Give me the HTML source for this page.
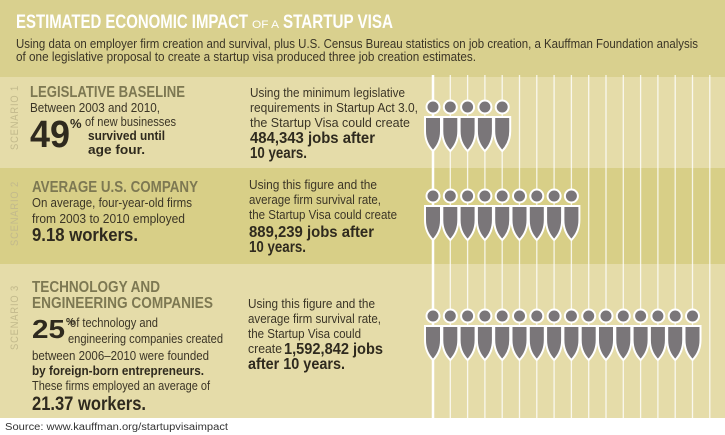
<!DOCTYPE html>
<html><head><meta charset="utf-8"><style>
html,body{margin:0;padding:0;background:#fff}
svg{display:block;font-family:"Liberation Sans",sans-serif}
.h{fill:#7d7852;font-weight:bold}
.t{fill:#3b3526}
.b{fill:#2f2a1e;font-weight:bold}
.s{fill:#c2b98c;font-size:11px;letter-spacing:1px}
</style></head><body>
<svg id="chart" width="725" height="435" viewBox="0 0 725 435">
<rect x="0" y="0" width="725" height="77" fill="#d9d08e"/>
<rect x="0" y="77" width="725" height="91" fill="#e5dca9"/>
<rect x="0" y="168" width="725" height="96" fill="#d8cf87"/>
<rect x="0" y="264" width="725" height="154" fill="#e5dca9"/>
<g id="lines"></g>
<g id="figs"></g>

<g>
<text x="16" y="28" font-size="19" font-weight="bold" fill="#fff" textLength="232" lengthAdjust="spacingAndGlyphs">ESTIMATED ECONOMIC IMPACT</text>
<text x="252" y="28" font-size="11" fill="#fff" textLength="27" lengthAdjust="spacingAndGlyphs">OF A</text>
<text x="283" y="28" font-size="19" font-weight="bold" fill="#fff" textLength="110" lengthAdjust="spacingAndGlyphs">STARTUP VISA</text>
<text x="16" y="48" font-size="13" class="t" textLength="682" lengthAdjust="spacingAndGlyphs">Using data on employer firm creation and survival, plus U.S. Census Bureau statistics on job creation, a Kauffman Foundation analysis</text>
<text x="16" y="61" font-size="13" class="t" textLength="460" lengthAdjust="spacingAndGlyphs">of one legislative proposal to create a startup visa produced three job creation estimates.</text>
</g>

<g>
<text class="s" transform="translate(18,150) rotate(-90)" textLength="65" lengthAdjust="spacingAndGlyphs">SCENARIO 1</text>
<text x="30" y="97" font-size="16" class="h" textLength="155" lengthAdjust="spacingAndGlyphs">LEGISLATIVE BASELINE</text>
<text x="30" y="112" font-size="13" class="t" textLength="130" lengthAdjust="spacingAndGlyphs">Between 2003 and 2010,</text>
<text x="30" y="147" font-size="38" class="b" textLength="40" lengthAdjust="spacingAndGlyphs">49</text>
<text x="70" y="128" font-size="13" class="b">%</text>
<text x="85" y="126" font-size="13" class="t" textLength="91" lengthAdjust="spacingAndGlyphs">of new businesses</text>
<text x="88" y="140" font-size="13" class="b" textLength="77" lengthAdjust="spacingAndGlyphs">survived until</text>
<text x="88" y="154" font-size="13" class="b" textLength="57" lengthAdjust="spacingAndGlyphs">age four.</text>
<text x="250" y="97" font-size="13" class="t" textLength="155" lengthAdjust="spacingAndGlyphs">Using the minimum legislative</text>
<text x="250" y="112" font-size="13" class="t" textLength="168" lengthAdjust="spacingAndGlyphs">requirements in Startup Act 3.0,</text>
<text x="250" y="127" font-size="13" class="t" textLength="160" lengthAdjust="spacingAndGlyphs">the Startup Visa could create</text>
<text x="250" y="143" font-size="16" class="b" textLength="125" lengthAdjust="spacingAndGlyphs">484,343 jobs after</text>
<text x="250" y="158" font-size="16" class="b" textLength="57" lengthAdjust="spacingAndGlyphs">10 years.</text>
</g>

<g>
<text class="s" transform="translate(18,246) rotate(-90)" textLength="65" lengthAdjust="spacingAndGlyphs">SCENARIO 2</text>
<text x="32" y="192" font-size="16" class="h" textLength="166" lengthAdjust="spacingAndGlyphs">AVERAGE U.S. COMPANY</text>
<text x="32" y="207" font-size="13" class="t" textLength="160" lengthAdjust="spacingAndGlyphs">On average, four-year-old firms</text>
<text x="32" y="223" font-size="13" class="t" textLength="153" lengthAdjust="spacingAndGlyphs">from 2003 to 2010 employed</text>
<text x="32" y="241" font-size="18" class="b" textLength="106" lengthAdjust="spacingAndGlyphs">9.18 workers.</text>
<text x="249" y="189" font-size="13" class="t" textLength="128" lengthAdjust="spacingAndGlyphs">Using this figure and the</text>
<text x="249" y="204" font-size="13" class="t" textLength="132" lengthAdjust="spacingAndGlyphs">average firm survival rate,</text>
<text x="249" y="219" font-size="13" class="t" textLength="148" lengthAdjust="spacingAndGlyphs">the Startup Visa could create</text>
<text x="249" y="237" font-size="16" class="b" textLength="125" lengthAdjust="spacingAndGlyphs">889,239 jobs after</text>
<text x="249" y="252" font-size="16" class="b" textLength="57" lengthAdjust="spacingAndGlyphs">10 years.</text>
</g>

<g>
<text class="s" transform="translate(18,350) rotate(-90)" textLength="65" lengthAdjust="spacingAndGlyphs">SCENARIO 3</text>
<text x="32" y="292" font-size="16" class="h" textLength="128" lengthAdjust="spacingAndGlyphs">TECHNOLOGY AND</text>
<text x="32" y="308" font-size="16" class="h" textLength="181" lengthAdjust="spacingAndGlyphs">ENGINEERING COMPANIES</text>
<text x="32" y="338" font-size="26" class="b" textLength="33" lengthAdjust="spacingAndGlyphs">25</text>
<text x="66" y="325" font-size="10" class="b">%</text>
<text x="70" y="327" font-size="13" class="t" textLength="88" lengthAdjust="spacingAndGlyphs">of technology and</text>
<text x="68" y="343" font-size="13" class="t" textLength="155" lengthAdjust="spacingAndGlyphs">engineering companies created</text>
<text x="32" y="360" font-size="13" class="t" textLength="177" lengthAdjust="spacingAndGlyphs">between 2006–2010 were founded</text>
<text x="32" y="375" font-size="13" class="b" textLength="172" lengthAdjust="spacingAndGlyphs">by foreign-born entrepreneurs.</text>
<text x="32" y="390" font-size="13" class="t" textLength="178" lengthAdjust="spacingAndGlyphs">These firms employed an average of</text>
<text x="32" y="410" font-size="19" class="b" textLength="114" lengthAdjust="spacingAndGlyphs">21.37 workers.</text>
<text x="248" y="308" font-size="13" class="t" textLength="127" lengthAdjust="spacingAndGlyphs">Using this figure and the</text>
<text x="248" y="323" font-size="13" class="t" textLength="133" lengthAdjust="spacingAndGlyphs">average firm survival rate,</text>
<text x="248" y="338" font-size="13" class="t" textLength="113" lengthAdjust="spacingAndGlyphs">the Startup Visa could</text>
<text x="248" y="353" font-size="13" class="t" textLength="34" lengthAdjust="spacingAndGlyphs">create</text>
<text x="284" y="354" font-size="16" class="b" textLength="99" lengthAdjust="spacingAndGlyphs">1,592,842 jobs</text>
<text x="248" y="369" font-size="16" class="b" textLength="97" lengthAdjust="spacingAndGlyphs">after 10 years.</text>
</g>

<text x="5" y="430" font-size="10" fill="#333" textLength="223" lengthAdjust="spacingAndGlyphs">Source: www.kauffman.org/startupvisaimpact</text>
</svg>
<script>
const scenarios = ["Scenario 1", "Scenario 2", "Scenario 3"];
const figureCounts = [5, 9, 16];
const lineCount = 17;

const NS = "http://www.w3.org/2000/svg";
const x0 = 433, step = 17.3;
const rowHeadY = [107, 196, 316];
function xAt(i){ return x0 + i*step; }
const lg = document.getElementById('lines');
for (let i=0;i<lineCount;i++){
  const l = document.createElementNS(NS,'line');
  
  
  l.setAttribute('x1', xAt(i)); l.setAttribute('x2', xAt(i));
  l.setAttribute('y1', 75); l.setAttribute('y2', 418);
  l.setAttribute('stroke', '#fff');
  l.setAttribute('stroke-opacity', i===0 ? 1 : 0.8);
  l.setAttribute('stroke-width', i===0 ? 2.5 : 1.3);
  lg.appendChild(l);
}
const fg = document.getElementById('figs');
figureCounts.forEach((n, r) => {
  const hy = rowHeadY[r];
  for (let i=0;i<n;i++){
    const cx = xAt(i);
    const g = document.createElementNS(NS,'g');
    
    
    const c = document.createElementNS(NS,'circle');
    c.setAttribute('cx', cx); c.setAttribute('cy', hy); c.setAttribute('r', 6.5);
    c.setAttribute('fill', '#7a7679'); c.setAttribute('stroke', '#fff'); c.setAttribute('stroke-width', 2);
    const by = hy + 10;
    const p = document.createElementNS(NS,'path');
    p.setAttribute('d', `M${cx-8} ${by} L${cx+8} ${by} L${cx+8} ${by+14} Q${cx+8} ${by+26} ${cx} ${by+34} Q${cx-8} ${by+26} ${cx-8} ${by+14} Z`);
    p.setAttribute('fill', '#7a7679'); p.setAttribute('stroke', '#fff'); p.setAttribute('stroke-width', 2);
    g.appendChild(c); g.appendChild(p);
    fg.appendChild(g);
  }
});
</script>
</body></html>
